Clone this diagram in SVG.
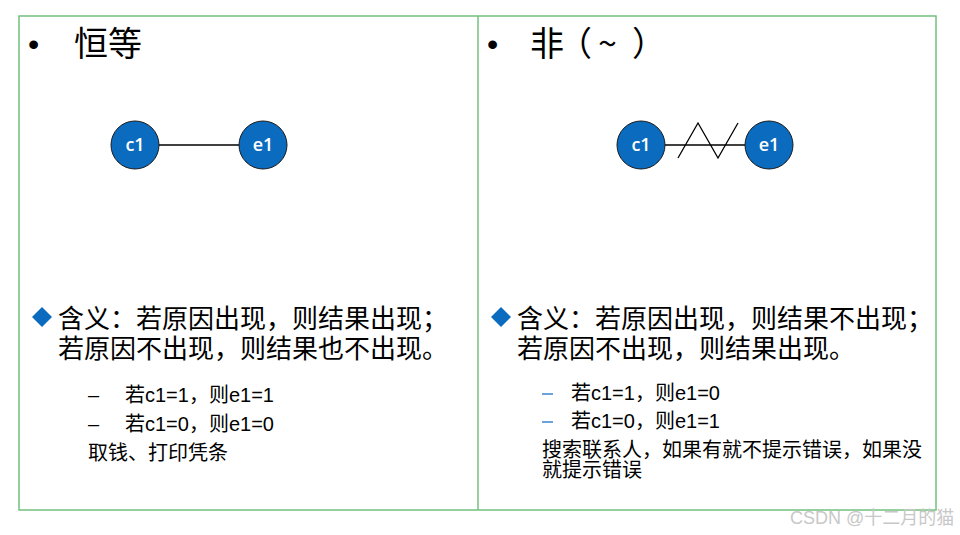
<svg xmlns="http://www.w3.org/2000/svg" width="960" height="535" viewBox="0 0 960 535">
<style>
.frame{fill:none;stroke:#72c07e;stroke-width:1.5}
.node{fill:#0b6cbf;stroke:#1a1a1a;stroke-width:1}
.nl{font-family:"Open Sans","Noto Sans",sans-serif;font-size:18px;font-weight:600;fill:#fff;text-anchor:middle}
.edge{stroke:#000;stroke-width:1.3;fill:none}
.bul{font-family:"Liberation Sans",sans-serif;font-size:32px;fill:#000}
.title{font-family:"Noto Sans CJK SC","Liberation Sans",sans-serif;font-size:34px;fill:#000}
.big{font-family:"Noto Sans CJK SC","Liberation Sans",sans-serif;font-size:26px;fill:#000}
.small{font-family:"Liberation Sans","Noto Sans CJK SC",sans-serif;font-size:20px;fill:#000}
.dia{fill:#0b6cbf}
</style>
<rect x="0" y="0" width="960" height="535" fill="#fff"/>
<rect class="frame" x="19" y="16" width="917" height="494"/>
<line class="frame" x1="478" y1="16" x2="478" y2="510"/>

<g id="left-panel">
<text class="bul" x="28" y="55">•</text>
<text class="title" x="74" y="56">恒等</text>
<path class="dia" d="M42 307 L52 317 L42 327 L32 317 Z"/>
<text class="big" x="58" y="328">含义：若原因出现，则结果出现；</text>
<text class="big" x="58" y="358">若原因不出现，则结果也不出现。</text>
<text class="small" x="88" y="402">–</text>
<text class="small" x="125" y="402">若c1=1，则e1=1</text>
<text class="small" x="88" y="431">–</text>
<text class="small" x="125" y="431">若c1=0，则e1=0</text>
<text class="small" x="88" y="460">取钱、打印凭条</text>
</g>

<g id="right-panel">
<text class="bul" x="487" y="55">•</text>
<text class="title" x="530 558 598 632" y="56">非（~）</text>
<path class="dia" d="M501 307 L511 317 L501 327 L491 317 Z"/>
<text class="big" x="517" y="328">含义：若原因出现，则结果不出现；</text>
<text class="big" x="517" y="358">若原因不出现，则结果出现。</text>
<line x1="542" y1="394" x2="553" y2="394" stroke="#3a86d0" stroke-width="1.5"/>
<text class="small" x="571" y="400">若c1=1，则e1=0</text>
<line x1="542" y1="422" x2="553" y2="422" stroke="#3a86d0" stroke-width="1.5"/>
<text class="small" x="571" y="428">若c1=0，则e1=1</text>
<text class="small" x="542" y="457">搜索联系人，如果有就不提示错误，如果没</text>
<text class="small" x="542" y="477">就提示错误</text>
</g>

<g id="connectors">
<line class="edge" x1="159" y1="145" x2="239" y2="145"/>
<line class="edge" x1="665" y1="145" x2="745" y2="145"/>
<polyline class="edge" points="678,158 698,123 718,158 738,123"/>
</g>

<g id="node-c1-left"><circle class="node" cx="135" cy="145" r="24"/><text class="nl" x="135" y="151">c1</text></g>
<g id="node-e1-left"><circle class="node" cx="263" cy="145" r="24"/><text class="nl" x="263" y="151">e1</text></g>
<g id="node-c1-right"><circle class="node" cx="641" cy="145" r="24"/><text class="nl" x="641" y="151">c1</text></g>
<g id="node-e1-right"><circle class="node" cx="769" cy="145" r="24"/><text class="nl" x="769" y="151">e1</text></g>

<text x="790" y="524" font-family="Liberation Sans,Noto Sans CJK SC,sans-serif" font-size="18" fill="#c8c8c8">CSDN @十二月的猫</text>
</svg>
